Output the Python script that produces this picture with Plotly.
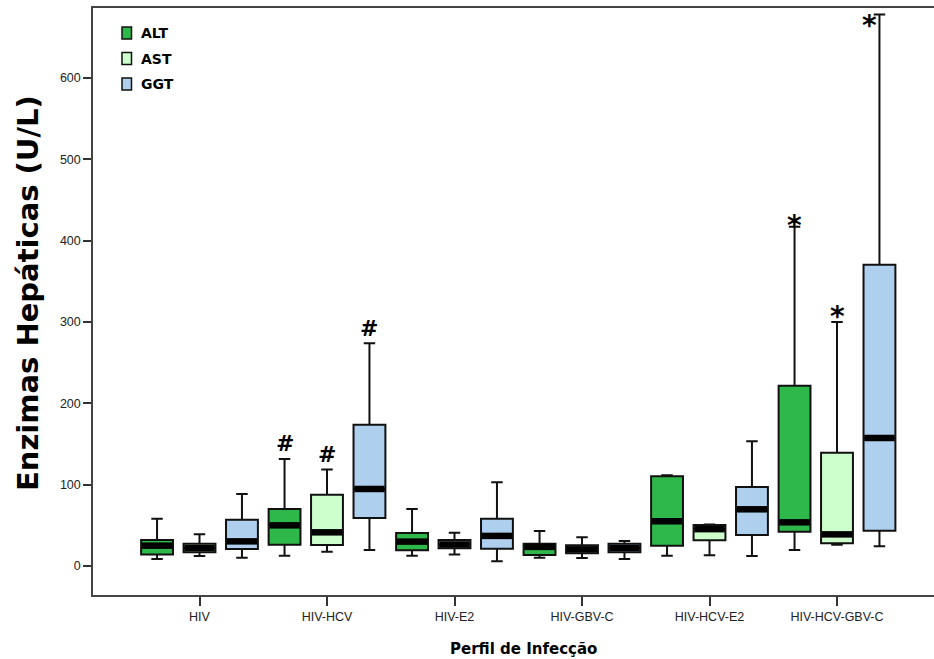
import plotly.graph_objects as go

# Liver enzyme levels (U/L) per infection profile: five-number summaries
groups = ["HIV", "HIV-HCV", "HIV-E2", "HIV-GBV-C", "HIV-HCV-E2", "HIV-HCV-GBV-C"]

alt_low = [8.6, 12.7, 12.7, 10.2, 12.7, 19.7]
alt_q1 = [14.0, 26.2, 19.3, 13.5, 25.0, 42.2]
alt_med = [25.0, 50.0, 30.0, 23.5, 55.0, 53.7]
alt_q3 = [32.0, 70.0, 40.6, 27.5, 110.5, 221.7]
alt_high = [58.2, 131.6, 70.0, 43.0, 111.5, 417.0]

ast_low = [12.3, 17.6, 14.2, 9.8, 13.1, 26.0]
ast_q1 = [16.8, 25.8, 21.8, 15.6, 31.6, 28.0]
ast_med = [22.0, 41.4, 26.5, 20.5, 45.3, 38.9]
ast_q3 = [27.5, 87.7, 31.9, 25.4, 50.3, 139.4]
ast_high = [39.0, 118.5, 41.0, 35.2, 51.0, 300.0]

ggt_low = [10.2, 19.7, 5.7, 8.6, 12.3, 24.2]
ggt_q1 = [20.9, 59.0, 21.3, 16.8, 38.1, 43.4]
ggt_med = [30.3, 94.7, 37.0, 22.1, 69.7, 157.4]
ggt_q3 = [57.0, 173.8, 58.2, 27.5, 97.2, 370.5]
ggt_high = [88.5, 274.0, 103.0, 30.7, 153.3, 678.0]

enzymes = ["ALT", "AST", "GGT"]
fills = ["#2fb84a", "#ccffcc", "#aecfee"]

# significance marks: (enzyme index, group index)
marks_hash = [(0, 1), (1, 1), (2, 1)]
marks_star = [(0, 5), (1, 5), (2, 5)]

y_ticks = [0, 100, 200, 300, 400, 500, 600]

# ---- figure geometry (pixels) ----
W, H = 934, 659
ML, MR, MT, MB = 93, 0, 8, 64
PW, PH = W - ML - MR, H - MT - MB

box_w = 0.25
offsets = [-0.333, 0.0, 0.333]

stats = [
    (alt_low, alt_q1, alt_med, alt_q3, alt_high),
    (ast_low, ast_q1, ast_med, ast_q3, ast_high),
    (ggt_low, ggt_q1, ggt_med, ggt_q3, ggt_high),
]

fig = go.Figure()

for k, (name, fill) in enumerate(zip(enzymes, fills)):
    lo, q1, med, q3, hi = stats[k]
    xs = [i + offsets[k] for i in range(len(groups))]
    fig.add_trace(go.Box(
        name=name,
        x=xs,
        q1=q1, median=med, q3=q3,
        lowerfence=lo, upperfence=hi,
        width=box_w,
        whiskerwidth=0.36,
        fillcolor=fill,
        line=dict(color="#111111", width=2),
        boxpoints=False,
        showlegend=False,
        hoverinfo="skip",
    ))
    # thick median bands
    mx, my = [], []
    for x0, m in zip(xs, med):
        mx += [x0 - box_w / 2 + 0.006, x0 + box_w / 2 - 0.006, None]
        my += [m, m, None]
    fig.add_trace(go.Scatter(
        x=mx, y=my, mode="lines",
        line=dict(color="#000000", width=6.5),
        showlegend=False, hoverinfo="skip",
    ))

annotations = []

for k, g in marks_hash:
    annotations.append(dict(
        x=g + offsets[k], y=stats[k][4][g], xref="x", yref="y",
        text="<b>#</b>", showarrow=False, yanchor="middle", yshift=15,
        font=dict(family="DejaVu Sans", size=22, color="#000000"),
    ))

star_shift = {0: (0, 1), 1: (0, 6), 2: (-10, -11)}
for k, g in marks_star:
    dx, dy = star_shift[k]
    annotations.append(dict(
        x=g + offsets[k], y=stats[k][4][g], xref="x", yref="y",
        text="<b>*</b>", showarrow=False, yanchor="middle",
        xshift=dx, yshift=dy,
        font=dict(family="DejaVu Sans", size=28, color="#000000"),
    ))


def px_x(px):
    return (px - ML) / PW


def px_y(py):
    return (H - MB - py) / PH


# legend drawn as swatches plus labels
shapes = []
for k, (name, fill) in enumerate(zip(enzymes, fills)):
    cy = 33 + 25.5 * k
    shapes.append(dict(
        type="rect", xref="paper", yref="paper",
        x0=px_x(122), x1=px_x(131.5), y0=px_y(cy + 6), y1=px_y(cy - 6),
        fillcolor=fill, line=dict(color="#111111", width=1.5),
    ))
    annotations.append(dict(
        x=px_x(139), y=px_y(cy), xref="paper", yref="paper",
        text="<b>%s</b>" % name, showarrow=False,
        xanchor="left", yanchor="middle",
        font=dict(family="DejaVu Sans", size=14, color="#000000"),
    ))

# axis titles
annotations.append(dict(
    x=px_x(28), y=px_y(293), xref="paper", yref="paper",
    text="<b>Enzimas Hepáticas (U/L)</b>", textangle=-90, showarrow=False,
    xanchor="center", yanchor="middle",
    font=dict(family="DejaVu Sans", size=29, color="#000000"),
))
annotations.append(dict(
    x=px_x(523), y=px_y(649), xref="paper", yref="paper",
    text="<b>Perfil de Infecção</b>", showarrow=False,
    xanchor="center", yanchor="middle",
    font=dict(family="DejaVu Sans", size=15, color="#000000"),
))

x_min = -(199.5 - ML) / 127.5
x_max = x_min + PW / 127.5
y_scale = 0.8133
y_min = -(595 - 566) / y_scale
y_max = (566 - MT) / y_scale

fig.update_layout(
    width=W, height=H,
    margin=dict(l=ML, r=MR, t=MT, b=MB, autoexpand=False),
    paper_bgcolor="#ffffff", plot_bgcolor="#ffffff",
    boxmode="overlay",
    showlegend=False,
    annotations=annotations,
    shapes=shapes,
    xaxis=dict(
        range=[x_min, x_max],
        tickvals=list(range(len(groups))), ticktext=groups,
        ticks="outside", ticklen=9, tickwidth=1.5, tickcolor="#333333",
        showline=True, linecolor="#444444", linewidth=1.5, mirror=True,
        showgrid=False, zeroline=False,
        tickfont=dict(family="Liberation Sans", size=12.5, color="#222222"),
    ),
    yaxis=dict(
        range=[y_min, y_max],
        tickvals=y_ticks,
        ticks="outside", ticklen=8, tickwidth=1.5, tickcolor="#333333",
        showline=True, linecolor="#444444", linewidth=1.5,
        showgrid=False, zeroline=False,
        tickfont=dict(family="Liberation Sans", size=12.5, color="#222222"),
    ),
)

fig.write_html("out.html")
